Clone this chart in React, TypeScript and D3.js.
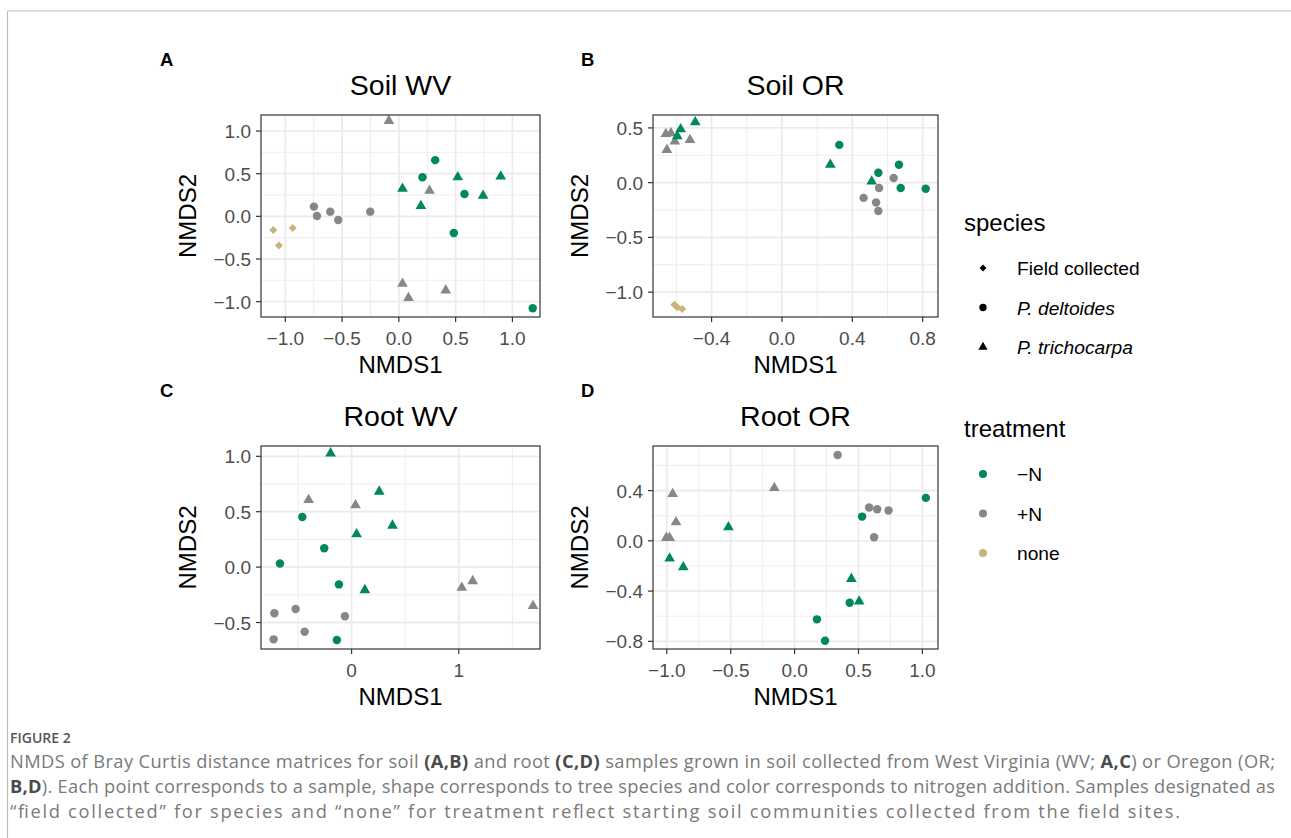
import React from "react";
import * as d3 from "d3";

type Species = "field" | "deltoides" | "trichocarpa";
type Treatment = "minusN" | "plusN" | "none";
type Pt = [number, number, Species, Treatment];

// sample scores: [NMDS1, NMDS2, species, treatment]
const soilWV: Pt[] = [
  [-1.106, -0.161, "field", "none"], [-1.056, -0.341, "field", "none"], [-0.935, -0.137, "field", "none"],
  [-0.748, 0.114, "deltoides", "plusN"], [-0.721, 0.004, "deltoides", "plusN"], [-0.604, 0.055, "deltoides", "plusN"],
  [-0.534, -0.043, "deltoides", "plusN"], [-0.252, 0.055, "deltoides", "plusN"],
  [-0.088, 1.12, "trichocarpa", "plusN"], [0.27, 0.3, "trichocarpa", "plusN"], [0.032, -0.79, "trichocarpa", "plusN"],
  [0.085, -0.957, "trichocarpa", "plusN"], [0.413, -0.867, "trichocarpa", "plusN"],
  [0.32, 0.659, "deltoides", "minusN"], [0.208, 0.459, "deltoides", "minusN"], [0.578, 0.263, "deltoides", "minusN"],
  [0.484, -0.196, "deltoides", "minusN"], [1.179, -1.078, "deltoides", "minusN"],
  [0.032, 0.325, "trichocarpa", "minusN"], [0.194, 0.122, "trichocarpa", "minusN"], [0.519, 0.459, "trichocarpa", "minusN"],
  [0.742, 0.243, "trichocarpa", "minusN"], [0.897, 0.467, "trichocarpa", "minusN"],
];

const soilOR: Pt[] = [
  [-0.66, 0.445, "trichocarpa", "plusN"], [-0.631, 0.452, "trichocarpa", "plusN"], [-0.654, 0.3, "trichocarpa", "plusN"],
  [-0.609, 0.376, "trichocarpa", "plusN"], [-0.523, 0.39, "trichocarpa", "plusN"],
  [-0.576, 0.488, "trichocarpa", "minusN"], [-0.595, 0.424, "trichocarpa", "minusN"], [-0.493, 0.552, "trichocarpa", "minusN"],
  [0.275, 0.164, "trichocarpa", "minusN"], [0.51, 0.012, "trichocarpa", "minusN"],
  [0.326, 0.345, "deltoides", "minusN"], [0.548, 0.091, "deltoides", "minusN"], [0.665, 0.164, "deltoides", "minusN"],
  [0.675, -0.048, "deltoides", "minusN"], [0.817, -0.055, "deltoides", "minusN"],
  [0.635, 0.042, "deltoides", "plusN"], [0.552, -0.048, "deltoides", "plusN"], [0.464, -0.139, "deltoides", "plusN"],
  [0.535, -0.182, "deltoides", "plusN"], [0.548, -0.258, "deltoides", "plusN"],
  [-0.612, -1.115, "field", "none"], [-0.595, -1.139, "field", "none"], [-0.567, -1.155, "field", "none"],
];

const rootWV: Pt[] = [
  [-0.196, 1.027, "trichocarpa", "minusN"], [0.258, 0.682, "trichocarpa", "minusN"], [0.382, 0.375, "trichocarpa", "minusN"],
  [0.047, 0.297, "trichocarpa", "minusN"], [0.124, -0.207, "trichocarpa", "minusN"],
  [-0.401, 0.607, "trichocarpa", "plusN"], [0.037, 0.559, "trichocarpa", "plusN"], [1.028, -0.186, "trichocarpa", "plusN"],
  [1.13, -0.126, "trichocarpa", "plusN"], [1.693, -0.351, "trichocarpa", "plusN"],
  [-0.46, 0.453, "deltoides", "minusN"], [-0.255, 0.171, "deltoides", "minusN"], [-0.668, 0.033, "deltoides", "minusN"],
  [-0.118, -0.156, "deltoides", "minusN"], [-0.137, -0.658, "deltoides", "minusN"],
  [-0.72, -0.417, "deltoides", "plusN"], [-0.522, -0.378, "deltoides", "plusN"], [-0.062, -0.444, "deltoides", "plusN"],
  [-0.438, -0.583, "deltoides", "plusN"], [-0.727, -0.652, "deltoides", "plusN"],
];

const rootOR: Pt[] = [
  [0.337, 0.683, "deltoides", "plusN"], [0.583, 0.265, "deltoides", "plusN"], [0.646, 0.252, "deltoides", "plusN"],
  [0.735, 0.241, "deltoides", "plusN"], [0.622, 0.029, "deltoides", "plusN"],
  [0.528, 0.193, "deltoides", "minusN"], [1.027, 0.342, "deltoides", "minusN"], [0.431, -0.493, "deltoides", "minusN"],
  [0.175, -0.625, "deltoides", "minusN"], [0.238, -0.795, "deltoides", "minusN"],
  [-0.954, 0.374, "trichocarpa", "plusN"], [-0.928, 0.148, "trichocarpa", "plusN"], [-1.004, 0.024, "trichocarpa", "plusN"],
  [-0.978, 0.024, "trichocarpa", "plusN"], [-0.159, 0.421, "trichocarpa", "plusN"],
  [-0.978, -0.14, "trichocarpa", "minusN"], [-0.871, -0.209, "trichocarpa", "minusN"], [-0.518, 0.109, "trichocarpa", "minusN"],
  [0.444, -0.302, "trichocarpa", "minusN"], [0.505, -0.482, "trichocarpa", "minusN"],
];

const speciesKeys: Species[] = ["field", "deltoides", "trichocarpa"];
const speciesLabels = ["Field collected", "P. deltoides", "P. trichocarpa"];
const treatmentKeys: Treatment[] = ["minusN", "plusN", "none"];
const treatmentLabels = ["\u2212N", "+N", "none"];
const treatmentColors = ["#00875a", "#878787", "#c8b37c"];

const color = d3.scaleOrdinal<Treatment, string>().domain(treatmentKeys).range(treatmentColors);

const FONT = "'Liberation Sans', Arial, Helvetica, sans-serif";

function shapePath(s: Species, scale = 1) {
  if (s === "deltoides") return d3.symbol(d3.symbolCircle, 56 * scale)()!;
  if (s === "trichocarpa") return d3.symbol(d3.symbolTriangle, 50 * scale)()!;
  return d3.symbol(d3.symbolSquare, 32 * scale)()!;
}

// field-collected samples are drawn as a square turned 45 degrees
const shapeRot = (s: Species) => (s === "field" ? " rotate(45)" : "");

const fmt = (digits: number) => (v: number) =>
  (v < 0 ? "\u2212" : "") + Math.abs(v).toFixed(digits);

type PanelProps = {
  label: string;
  labelX: number;
  title: string;
  data: Pt[];
  left: number;
  top: number;
  width: number;
  height: number;
  xDomain: [number, number];
  yDomain: [number, number];
  xTicks: number[];
  yTicks: number[];
  xMinor: number[];
  yMinor: number[];
  xDigits: number;
  yDigits: number;
};

function Panel(p: PanelProps) {
  const x = d3.scaleLinear().domain(p.xDomain).range([p.left, p.left + p.width]);
  const y = d3.scaleLinear().domain(p.yDomain).range([p.top + p.height, p.top]);
  const bottom = p.top + p.height;
  const right = p.left + p.width;
  const fx = fmt(p.xDigits);
  const fy = fmt(p.yDigits);
  const cx = p.left + p.width / 2;
  const cy = p.top + p.height / 2;
  return (
    <g fontFamily={FONT}>
      <text x={p.labelX} y={p.top - 49} fontSize={18.5} fontWeight="bold">{p.label}</text>
      <text x={cx} y={p.top - 20} fontSize={28.5} textAnchor="middle">{p.title}</text>
      <rect x={p.left} y={p.top} width={p.width} height={p.height} fill="#fff" />
      {p.xMinor.map((v) => (
        <line key={"xm" + v} x1={x(v)} x2={x(v)} y1={p.top} y2={bottom} stroke="#ebebeb" strokeWidth={0.9} />
      ))}
      {p.yMinor.map((v) => (
        <line key={"ym" + v} x1={p.left} x2={right} y1={y(v)} y2={y(v)} stroke="#ebebeb" strokeWidth={0.9} />
      ))}
      {p.xTicks.map((v) => (
        <line key={"xg" + v} x1={x(v)} x2={x(v)} y1={p.top} y2={bottom} stroke="#ebebeb" strokeWidth={1.8} />
      ))}
      {p.yTicks.map((v) => (
        <line key={"yg" + v} x1={p.left} x2={right} y1={y(v)} y2={y(v)} stroke="#ebebeb" strokeWidth={1.8} />
      ))}
      {p.data.map((d, i) => (
        <path key={i} d={shapePath(d[2])} transform={`translate(${x(d[0])},${y(d[1])})${shapeRot(d[2])}`} fill={color(d[3])} />
      ))}
      <rect x={p.left} y={p.top} width={p.width} height={p.height} fill="none" stroke="#333" strokeWidth={1.2} />
      {p.xTicks.map((v) => (
        <g key={"xt" + v}>
          <line x1={x(v)} x2={x(v)} y1={bottom} y2={bottom + 5} stroke="#333" strokeWidth={1.2} />
          <text x={x(v)} y={bottom + 28} fontSize={19} fill="#4d4d4d" textAnchor="middle">{fx(v)}</text>
        </g>
      ))}
      {p.yTicks.map((v) => (
        <g key={"yt" + v}>
          <line x1={p.left - 5} x2={p.left} y1={y(v)} y2={y(v)} stroke="#333" strokeWidth={1.2} />
          <text x={p.left - 10} y={y(v) + 7} fontSize={19} fill="#4d4d4d" textAnchor="end">{fy(v)}</text>
        </g>
      ))}
      <text x={cx} y={bottom + 56} fontSize={24} textAnchor="middle">NMDS1</text>
      <text transform={`translate(${p.left - 65},${cy}) rotate(-90)`} fontSize={24} textAnchor="middle">NMDS2</text>
    </g>
  );
}

function Legend() {
  const lx = 964;
  return (
    <g fontFamily={FONT}>
      <text x={lx} y={231} fontSize={24}>species</text>
      {speciesKeys.map((s, i) => (
        <g key={s}>
          <path d={shapePath(s, 0.75)} transform={`translate(983,${268 + i * 39.5})${shapeRot(s)}`} fill="#000" />
          <text x={1017} y={275 + i * 39.5} fontSize={19.2} fontStyle={i > 0 ? "italic" : "normal"}>
            {speciesLabels[i]}
          </text>
        </g>
      ))}
      <text x={lx} y={437} fontSize={24}>treatment</text>
      {treatmentKeys.map((t, i) => (
        <g key={t}>
          <path d={shapePath("deltoides", 0.9)} transform={`translate(983,${474 + i * 39.5})`} fill={color(t)} />
          <text x={1017} y={481 + i * 39.5} fontSize={19.2}>{treatmentLabels[i]}</text>
        </g>
      ))}
    </g>
  );
}

const B = ({ children }: { children: React.ReactNode }) => (
  <tspan fontWeight="bold" fill="#4a4a4a">{children}</tspan>
);

export default function App() {
  const rowTop = [115, 446];
  const colLeft = [261, 653];
  return (
    <svg width={1291} height={838} style={{ position: "absolute", left: 0, top: 0, background: "#fff" }}>
      <line x1={7.5} x2={1291} y1={11} y2={11} stroke="#bdbdbd" strokeWidth={1.2} />
      <line x1={7.5} x2={7.5} y1={11} y2={838} stroke="#bdbdbd" strokeWidth={1.2} />
      <Panel label="A" labelX={160} title="Soil WV" data={soilWV} left={colLeft[0]} top={rowTop[0]} width={279} height={202}
        xDomain={[-1.214, 1.243]} yDomain={[-1.18, 1.188]}
        xTicks={[-1, -0.5, 0, 0.5, 1]} yTicks={[-1, -0.5, 0, 0.5, 1]}
        xMinor={[-0.75, -0.25, 0.25, 0.75]} yMinor={[-0.75, -0.25, 0.25, 0.75]} xDigits={1} yDigits={1} />
      <Panel label="B" labelX={581} title="Soil OR" data={soilOR} left={colLeft[1]} top={rowTop[0]} width={285} height={202}
        xDomain={[-0.733, 0.887]} yDomain={[-1.227, 0.618]}
        xTicks={[-0.4, 0, 0.4, 0.8]} yTicks={[-1, -0.5, 0, 0.5]}
        xMinor={[-0.6, -0.2, 0.2, 0.6]} yMinor={[-0.75, -0.25, 0.25]} xDigits={1} yDigits={1} />
      <Panel label="C" labelX={160} title="Root WV" data={rootWV} left={colLeft[0]} top={rowTop[1]} width={279} height={203}
        xDomain={[-0.845, 1.758]} yDomain={[-0.739, 1.093]}
        xTicks={[0, 1]} yTicks={[-0.5, 0, 0.5, 1]}
        xMinor={[-0.5, 0.5, 1.5]} yMinor={[-0.25, 0.25, 0.75]} xDigits={0} yDigits={1} />
      <Panel label="D" labelX={581} title="Root OR" data={rootOR} left={colLeft[1]} top={rowTop[1]} width={285} height={203}
        xDomain={[-1.108, 1.122]} yDomain={[-0.861, 0.755]}
        xTicks={[-1, -0.5, 0, 0.5, 1]} yTicks={[-0.8, -0.4, 0, 0.4]}
        xMinor={[-0.75, -0.25, 0.25, 0.75]} yMinor={[-0.6, -0.2, 0.2, 0.6]} xDigits={1} yDigits={1} />
      <Legend />
      <g fontFamily="'Open Sans', 'Noto Sans', sans-serif" fill="#7a7a7a" fontSize={18.3}>
        <text x={10} y={743} fontSize={14} fill="#555" fontWeight={600}>FIGURE 2</text>
        <text x={10} y={768} textLength={1265} lengthAdjust="spacing">
          NMDS of Bray Curtis distance matrices for soil <B>(A,B)</B> and root <B>(C,D)</B> samples grown in soil collected from West Virginia (WV; <B>A,C</B>) or Oregon (OR;
        </text>
        <text x={10} y={793} textLength={1265} lengthAdjust="spacing">
          <B>B,D</B>). Each point corresponds to a sample, shape corresponds to tree species and color corresponds to nitrogen addition. Samples designated as
        </text>
        <text x={10} y={818} textLength={1170} lengthAdjust="spacing">
          {"\u201Cfield collected\u201D for species and \u201Cnone\u201D for treatment reflect starting soil communities collected from the field sites."}
        </text>
      </g>
    </svg>
  );
}
